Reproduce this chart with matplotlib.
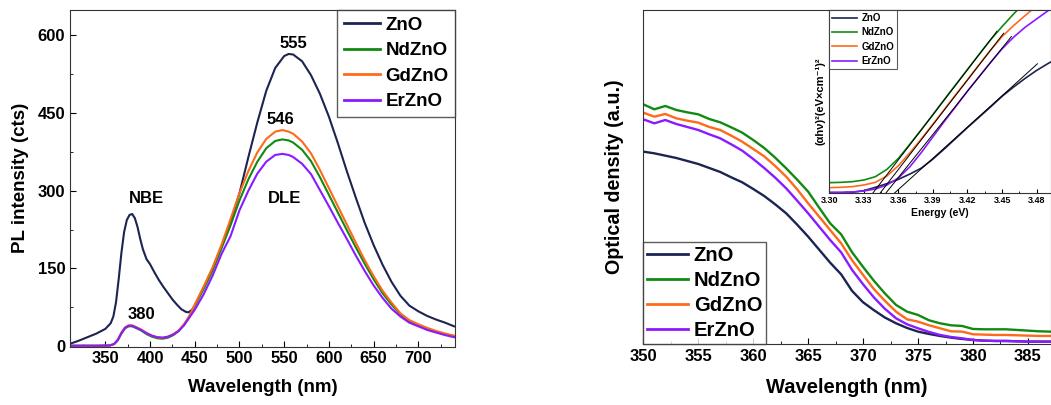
import matplotlib
matplotlib.use("Agg")
import matplotlib.pyplot as plt
from matplotlib.ticker import MultipleLocator, NullLocator

plt.rcParams['font.family'] = ['Liberation Sans', 'DejaVu Sans']
plt.rcParams['font.weight'] = 'bold'
plt.rcParams['axes.labelweight'] = 'bold'

# ---------------- colours / names ----------------
names = ['ZnO', 'NdZnO', 'GdZnO', 'ErZnO']
colors = ['#1c2452', '#128a12', '#ff6a1a', '#8a1aff']

# ---------------- PL spectra (left) ----------------
pl_wl_zno = [310, 320, 330, 340, 350, 356, 359, 362, 365, 368, 371, 374, 377, 380,
             383, 386, 389, 392, 396, 400, 405, 410, 415, 420, 425, 430, 435, 440,
             443, 447, 450, 460, 470, 480, 490, 500, 510, 520, 530, 540, 550, 555,
             560, 570, 580, 590, 600, 610, 620, 630, 640, 650, 660, 670, 680, 690,
             700, 710, 720, 730, 740]
pl_zno = [4, 10, 17, 24, 33, 44, 57, 85, 130, 180, 220, 243, 253, 255,
          247, 230, 207, 187, 168, 158, 142, 127, 114, 102, 90, 80, 71, 66,
          65, 70, 78, 113, 150, 192, 240, 295, 365, 432, 493, 537, 560, 564,
          563, 550, 523, 487, 443, 392, 338, 287, 238, 195, 157, 124, 97, 78,
          67, 58, 51, 45, 38]

pl_wl_dop = [310, 340, 355, 360, 364, 368, 372, 376, 380, 384, 390, 396, 402, 408,
             414, 420, 426, 432, 438, 444, 450, 460, 470, 480, 490, 500, 510, 520,
             530, 540, 548, 555, 560, 570, 580, 590, 600, 610, 620, 630, 640, 650,
             660, 670, 680, 690, 700, 710, 720, 730, 740]
pl_nd = [0.5, 0.5, 1, 4, 11, 24, 34, 38, 38, 35, 30, 23, 18, 15,
         14, 16, 21, 29, 41, 57, 78, 110, 146, 189, 233, 281, 322, 356,
         382, 396, 399, 397, 393, 379, 357, 326, 292, 258, 224, 191, 159, 129,
         102, 80, 61, 48, 40, 33, 27, 23, 19]
pl_gd = [0.5, 0.5, 1, 4, 12, 26, 36, 40, 40, 37, 32, 25, 20, 17,
         16, 18, 23, 30, 42, 58, 80, 115, 152, 196, 245, 295, 338, 374,
         400, 414, 417, 414, 410, 395, 372, 340, 305, 270, 235, 200, 166, 135,
         107, 84, 63, 50, 42, 35, 29, 24, 20]
pl_er = [0.5, 0.5, 1, 4, 12, 25, 35, 39, 39, 36, 31, 25, 20, 17,
         16, 18, 22, 29, 40, 55, 70, 100, 136, 178, 212, 262, 300, 333,
         356, 369, 371, 369, 365, 352, 332, 301, 270, 238, 207, 175, 145, 117,
         93, 72, 57, 45, 38, 31, 26, 21, 17]

# ---------------- optical density (right) ----------------
od_wl = list(range(350, 388))
od_zno = [57.8, 57.3, 56.6, 55.9, 55.0, 54.1, 52.9, 51.7, 50.1, 48.6, 46.6, 44.5, 42.0,
          39.3, 35.9, 32.3, 28.4, 24.5, 21.0, 16.0, 12.6, 10.2, 8.0, 6.3, 4.9, 3.8,
          3.1, 2.5, 2.0, 1.6, 1.3, 1.1, 1.0, 1.0, 0.9, 0.8, 0.8, 0.8]
od_nd = [72.0, 70.5, 71.5, 70.3, 69.6, 69.0, 67.6, 66.6, 65.1, 63.5, 61.3, 58.9, 56.0,
         52.8, 49.4, 45.8, 41.0, 36.3, 33.0, 27.6, 23.2, 19.0, 15.2, 11.8, 9.8, 8.8,
         7.2, 6.3, 5.7, 5.5, 4.6, 4.5, 4.5, 4.5, 4.3, 4.1, 3.9, 3.8]
od_gd = [69.5, 68.3, 69.1, 67.8, 67.1, 66.5, 65.2, 64.3, 62.6, 60.8, 58.6, 56.4, 53.5,
         50.3, 46.5, 42.3, 38.3, 34.3, 30.3, 25.2, 20.8, 16.5, 13.0, 9.8, 7.5, 6.8,
         5.7, 4.8, 3.9, 3.8, 3.0, 2.9, 2.8, 2.8, 2.7, 2.6, 2.5, 2.5]
od_er = [67.5, 66.3, 67.3, 66.1, 65.2, 64.3, 63.0, 61.8, 60.0, 58.1, 55.6, 52.9, 50.0,
         46.8, 43.1, 39.3, 35.3, 31.3, 27.6, 22.3, 18.0, 14.0, 10.6, 7.8, 6.0, 4.8,
         3.7, 2.8, 2.2, 1.8, 1.3, 1.1, 1.0, 1.0, 0.9, 0.8, 0.8, 0.8]

# ---------------- Tauc plot (inset) ----------------
tauc_e = [3.30, 3.31, 3.32, 3.33, 3.34, 3.35, 3.36, 3.37, 3.38, 3.39, 3.40, 3.41,
          3.42, 3.43, 3.44, 3.45, 3.46, 3.47, 3.48, 3.49, 3.50]
tauc_zno = [0.2, 0.2, 0.3, 0.8, 1.8, 2.9, 4.2, 5.8, 7.6, 10.3, 13.4, 16.6,
            19.8, 22.9, 26.0, 29.2, 32.0, 34.6, 37.0, 39.1, 41.0]
tauc_nd = [3.2, 3.3, 3.5, 4.0, 5.0, 7.2, 10.5, 14.8, 19.2, 23.7, 28.3, 32.8,
           37.3, 41.8, 46.2, 50.2, 54.0, 57.5, 61.0, 64.0, 67.0]
tauc_gd = [1.7, 1.8, 2.0, 2.5, 3.3, 5.2, 8.3, 12.2, 16.4, 20.8, 25.3, 29.8,
           34.2, 38.7, 43.1, 47.2, 50.5, 53.5, 56.5, 59.5, 62.0]
tauc_er = [0.3, 0.3, 0.4, 0.7, 1.3, 2.5, 4.6, 8.0, 12.3, 17.0, 21.7, 26.2,
           30.8, 35.1, 39.4, 43.5, 47.0, 50.0, 52.5, 55.0, 57.0]
# linear fits: x-intercept, end x, end y  (ZnO, Nd, Gd, Er)
fit_x0 = [3.3564, 3.3377, 3.3440, 3.3490]
fit_x1 = [3.4807, 3.4456, 3.4514, 3.4581]
fit_y1 = [39.0, 48.8, 48.2, 47.2]

# ---------------- figure ----------------
fig = plt.figure(figsize=(10.51, 4.05), dpi=100)

# ---- left panel
ax1 = fig.add_axes([0.0666, 0.1444, 0.3663, 0.831])
pl_series = [(pl_wl_zno, pl_zno), (pl_wl_dop, pl_nd), (pl_wl_dop, pl_gd), (pl_wl_dop, pl_er)]
for (x, y), c, n in zip(pl_series, colors, names):
    ax1.plot(x, y, color=c, lw=1.5, label=n)
ax1.set_xlim(310.5, 741)
ax1.set_ylim(-1, 649)
ax1.xaxis.set_major_locator(MultipleLocator(50))
ax1.xaxis.set_minor_locator(MultipleLocator(25))
ax1.yaxis.set_major_locator(MultipleLocator(150))
ax1.yaxis.set_minor_locator(MultipleLocator(75))
ax1.tick_params(which='both', direction='in', labelsize=12)
ax1.tick_params(which='major', length=4)
ax1.tick_params(which='minor', length=2.5)
ax1.set_xticks([350, 400, 450, 500, 550, 600, 650, 700])
ax1.set_yticks([0, 150, 300, 450, 600])
ax1.set_xlabel('Wavelength (nm)', fontsize=13.5, labelpad=9)
ax1.set_ylabel('PL intensity (cts)', fontsize=13.5, labelpad=6)
for s in ax1.spines.values():
    s.set_color('#333333')
ax1.text(560, 584, '555', ha='center', va='center', fontsize=12)
ax1.text(546, 438, '546', ha='center', va='center', fontsize=12)
ax1.text(396, 284, 'NBE', ha='center', va='center', fontsize=12)
ax1.text(550, 285, 'DLE', ha='center', va='center', fontsize=12)
ax1.text(390.6, 60, '380', ha='center', va='center', fontsize=12)
leg1 = ax1.legend(loc='upper right', fontsize=13.5, frameon=True, fancybox=False,
                  borderaxespad=0, handlelength=1.9, handletextpad=0.3,
                  labelspacing=0.45, borderpad=0.35)
leg1.get_frame().set_edgecolor('#333333')
leg1.get_frame().set_linewidth(1.0)
for h in leg1.get_lines():
    h.set_linewidth(2.0)

# ---- right panel
ax2 = fig.add_axes([0.6121, 0.1499, 0.3879, 0.8254])
od_series = [od_zno, od_nd, od_gd, od_er]
for y, c, n in zip(od_series, colors, names):
    ax2.plot(od_wl, y, color=c, lw=1.7, label=n)
ax2.set_xlim(350, 387.1)
ax2.set_ylim(0, 100.3)
ax2.set_xticks([350, 355, 360, 365, 370, 375, 380, 385])
ax2.xaxis.set_minor_locator(MultipleLocator(2.5))
ax2.yaxis.set_major_locator(NullLocator())
ax2.tick_params(which='both', direction='in', labelsize=12)
ax2.tick_params(which='major', length=4)
ax2.tick_params(which='minor', length=2.5)
ax2.set_xlabel('Wavelength (nm)', fontsize=14.5, labelpad=10)
ax2.set_ylabel('Optical density (a.u.)', fontsize=14.2, labelpad=14)
for s in ax2.spines.values():
    s.set_color('#333333')
leg2 = ax2.legend(loc='lower left', fontsize=14.5, frameon=True, fancybox=False,
                  borderaxespad=0, handlelength=2.0, handletextpad=0.3,
                  labelspacing=0.3, borderpad=0.2)
leg2.get_frame().set_edgecolor('#333333')
leg2.get_frame().set_linewidth(1.0)
for h in leg2.get_lines():
    h.set_linewidth(2.0)

# ---- inset
ax3 = fig.add_axes([0.789, 0.5227, 0.211, 0.4526])
tauc_series = [tauc_zno, tauc_nd, tauc_gd, tauc_er]
for y, c, n in zip(tauc_series, colors, names):
    ax3.plot(tauc_e, y, color=c, lw=1.2, label=n)
for x0, x1, y1 in zip(fit_x0, fit_x1, fit_y1):
    ax3.plot([x0, x1], [0, y1], color='black', lw=0.7)
ax3.set_xlim(3.30, 3.4925)
ax3.set_ylim(0, 55.2)
ax3.set_xticks([3.30, 3.33, 3.36, 3.39, 3.42, 3.45, 3.48])
ax3.set_xticklabels(['3.30', '3.33', '3.36', '3.39', '3.42', '3.45', '3.48'])
ax3.xaxis.set_minor_locator(MultipleLocator(0.015))
ax3.yaxis.set_major_locator(NullLocator())
ax3.tick_params(which='both', direction='in', labelsize=6.5, pad=2)
ax3.tick_params(which='major', length=3)
ax3.tick_params(which='minor', length=1.8)
ax3.set_xlabel('Energy (eV)', fontsize=7.5, labelpad=2)
ax3.set_ylabel('(αhν)²(eV×cm⁻¹)²', fontsize=8, labelpad=3)
for s in ax3.spines.values():
    s.set_color('#333333')
leg3 = ax3.legend(loc='upper left', fontsize=7, frameon=True, fancybox=False,
                  borderaxespad=0, handlelength=2.6, handletextpad=0.4,
                  labelspacing=0.45, borderpad=0.3)
leg3.get_frame().set_edgecolor('#333333')
leg3.get_frame().set_linewidth(0.8)

fig.savefig('out.png', dpi=100)
